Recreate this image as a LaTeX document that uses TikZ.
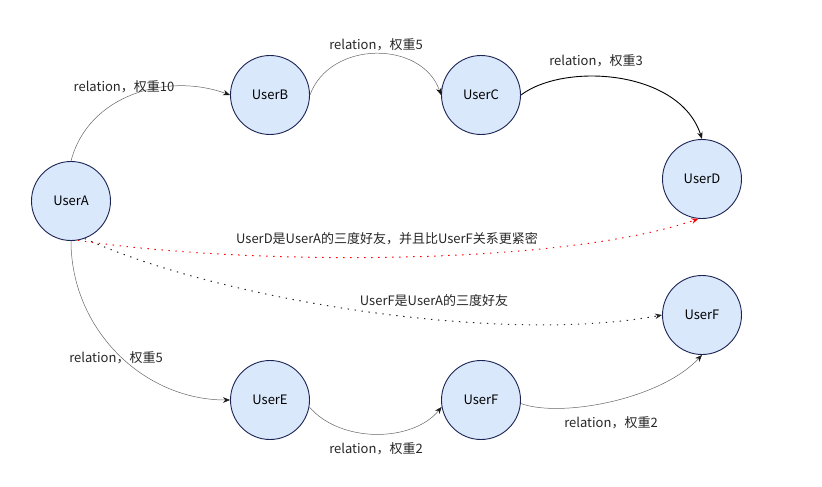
\documentclass[tikz,border=0pt]{standalone}
\usepackage{fontspec}
\setmainfont{Noto Sans CJK SC}
\usetikzlibrary{arrows.meta}
\definecolor{userfill}{HTML}{DAE8FC}
\definecolor{userline}{HTML}{1B2452}
\tikzset{
	user/.style={circle, draw=userline, fill=userfill, line width=0.9pt, minimum size=79pt, inner sep=0pt},
	rel/.style={draw=black!60, line width=0.5pt, -{Stealth[length=7pt,width=5.5pt,black!90]}},
	hop/.style={line width=1pt, dash pattern=on 1.4pt off 5.6pt, -{Stealth[length=7pt,width=5.5pt]}},
	lbl/.style={inner sep=1pt, text=black!85}
}
\begin{document}
\begin{tikzpicture}[x=1pt, y=-1pt, font=\fontsize{13}{15}\selectfont]
	\useasboundingbox (0,0) rectangle (822,487);
	% users
	\node[user] (A) at (71,201) {UserA};
	\node[user] (B) at (270,95) {UserB};
	\node[user] (C) at (481,95) {UserC};
	\node[user] (D) at (702,179) {UserD};
	\node[user] (E) at (270,400) {UserE};
	\node[user] (F) at (481,400) {UserF};
	\node[user] (Fr) at (702,315) {UserF};
	% relations, upper path
	\draw[rel] (A.north) .. controls (88,95) and (167,72) .. (B.west);
	\draw[rel] (B.east) .. controls (330,40) and (422,40) .. (C.west);
	\draw[rel, draw=black, line width=0.9pt] (C.east) .. controls (565,62) and (680,70) .. (D.north);
	% relations, lower path
	\draw[rel] (A.south) .. controls (71,329) and (143,400) .. (E.west);
	\draw[rel] (E.-10) .. controls (340,443) and (412,443) .. (F.190);
	\draw[rel] (F.-5) .. controls (560,418) and (660,400) .. (Fr.south);
	% third degree friends
	\draw[hop, red] (A.-80) .. controls (250,266) and (560,266) .. (D.-95);
	\draw[hop, black!85] (A.-70) .. controls (220,300) and (500,345) .. (Fr.west);
	% labels
	\node[lbl] (lAB) at (124,87) {relation，权重10};
	\node[lbl] (lBC) at (376,45) {relation，权重5};
	\node[lbl] (lCD) at (596,61) {relation，权重3};
	\node[lbl] (lAE) at (116,358) {relation，权重5};
	\node[lbl] (lEF) at (376,449) {relation，权重2};
	\node[lbl] (lFF) at (611,423) {relation，权重2};
	\node[lbl] (lAD) at (387,239) {UserD是UserA的三度好友，并且比UserF关系更紧密};
	\node[lbl] (lAF) at (434,301) {UserF是UserA的三度好友};
\end{tikzpicture}
\end{document}
